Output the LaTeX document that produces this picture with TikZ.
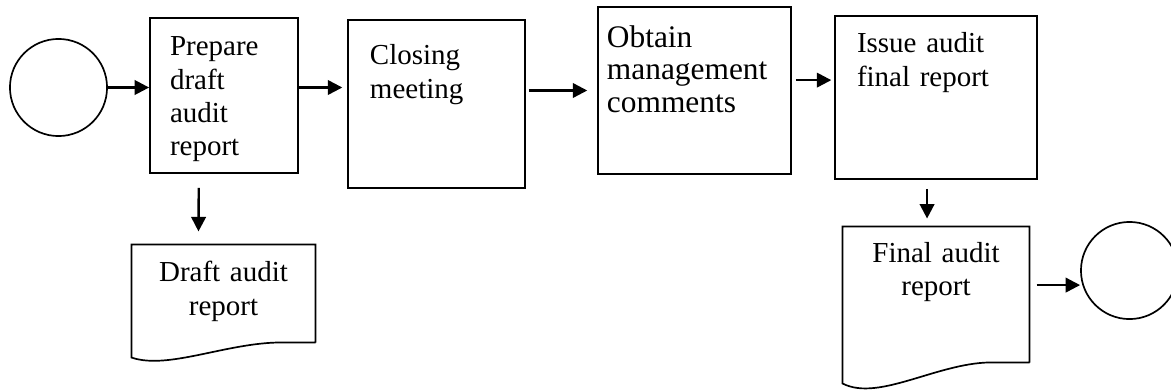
\documentclass[tikz,border=0pt]{standalone}
\usepackage{fontspec}
\setmainfont{Liberation Serif}
\usetikzlibrary{arrows.meta,calc}

\begin{document}
\begin{tikzpicture}[x=0.414pt,y=-0.414pt,
	term/.style={circle,draw,line width=0.7pt,minimum size=40.2pt,inner sep=0pt},
	stepbox/.style={draw,line width=0.7pt,inner ysep=0pt,align=left,font=\fontsize{12}{13.8}\selectfont},
	docbox/.style={inner sep=0pt,align=center,font=\fontsize{12}{13.8}\selectfont},
	docline/.style={line width=0.7pt},
	flow/.style={line width=1pt,-{Triangle[length=6pt,width=6pt]}}]
	\useasboundingbox (0,0) rectangle (1171,391);

	% top row
	\node[term] (start) at (58.5,87.5) {};
	\node[stepbox,inner xsep=8.3pt,text width=44.7pt,text height=15.7pt,text depth=48.5pt] (prep) at (224,95.5) {Prepare\\draft\\audit\\report};
	\node[stepbox,inner xsep=9.1pt,text width=55.1pt,text height=18.6pt,text depth=51pt] (close) at (436.5,104) {Closing\\meeting};
	\node[stepbox,inner xsep=3.7pt,text width=72.5pt,text height=16.6pt,text depth=52.5pt,font=\fontsize{13}{13.5}\selectfont] (obtain) at (694.5,90.5) {Obtain\\management\\comments};
	\node[stepbox,inner xsep=9.1pt,text width=65.4pt,text height=15.3pt,text depth=52.2pt] (issue) at (936,97.5) {Issue audit\\final report};

	% documents
	\node[docbox,text width=75.8pt,text height=15.3pt,text depth=24.9pt] (draft) at (223.5,293.5) {Draft audit\\report};
	\draw[docline] (draft.south east) -- (draft.north east) -- (draft.north west) -- ($(draft.south west)+(0,15)$)
		.. controls +(38,13) and +(-57,-2) .. ($(draft.south east)+(-28,0)$) -- (draft.south east);
	\node[docbox,text width=77pt,text height=14.5pt,text depth=41.4pt] (final) at (936,294.5) {Final audit\\report};
	\draw[docline] (final.south east) -- (final.north east) -- (final.north west) -- ($(final.south west)+(0,21)$)
		.. controls +(37,19) and +(-55,-2) .. ($(final.south east)+(-34,0)$) -- (final.south east);
	\node[term] (end) at (1129.5,270.5) {};

	% arrows
	\draw[flow] (start) -- (start -| prep.west);
	\draw[flow,shorten >=2pt] (prep.east |- start) -- (close.west |- start);
	\draw[flow,shorten <=1.2pt,shorten >=4.1pt] (close.east |- obtain.west) -- (obtain.west);
	\draw[flow,shorten <=1.7pt,shorten >=1.2pt] ([yshift=4.3pt]obtain.east) -- ([yshift=4.3pt]obtain.east -| issue.west);
	\draw[flow,shorten <=5.8pt,shorten >=5.4pt] ([xshift=-10.4pt]prep.south) -- ([xshift=-10.4pt]draft.north);
	\draw[flow,shorten <=3.7pt,shorten >=3.3pt] ([xshift=-3.7pt]issue.south) -- ([xshift=-3.7pt]final.north);
	\draw[flow,shorten <=2.9pt] ([yshift=3.9pt]final.east) -- ([yshift=3.9pt]final.east -| end.west);
\end{tikzpicture}
\end{document}
